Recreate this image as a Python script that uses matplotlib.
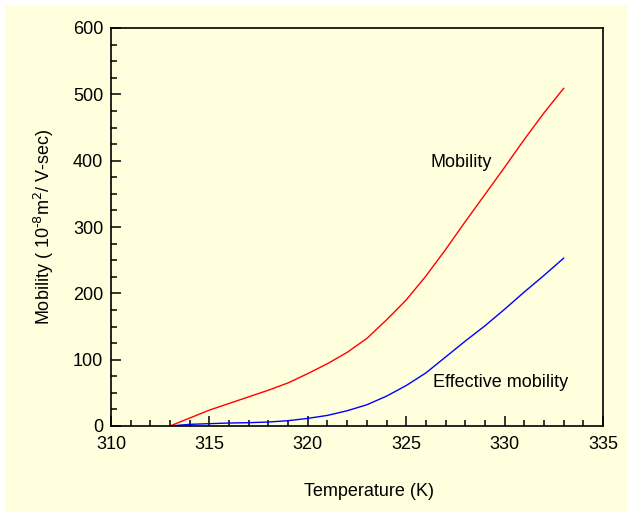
import matplotlib
matplotlib.use("Agg")
import matplotlib.pyplot as plt
from matplotlib.ticker import MultipleLocator
from matplotlib.patches import Rectangle

plt.rcParams['font.family'] = ['Liberation Sans', 'DejaVu Sans']

temperature = [313, 314, 315, 316, 317, 318, 319, 320, 321, 322, 323,
               324, 325, 326, 327, 328, 329, 330, 331, 332, 333]
mobility = [0, 12, 24, 34, 44, 54, 65, 79, 94, 111, 132,
            160, 190, 226, 266, 308, 349, 390, 432, 472, 509]
effective_mobility = [0, 2.5, 3.5, 4.5, 5, 6, 8, 11.5, 16, 23, 32,
                      45, 61, 80, 104, 128, 151, 176, 202, 227, 253]

bg = '#FFFFDD'
fig = plt.figure(figsize=(6.32, 5.17), dpi=100, facecolor='white')
fig.patches.append(Rectangle((5/632, 5/517), 622/632, 507/517, transform=fig.transFigure,
                             facecolor=bg, edgecolor='none', zorder=-10))
ax = fig.add_axes([111/632, 1-426/517, (603-111)/632, (426-28)/517])
ax.set_facecolor(bg)

ax.plot(temperature, mobility, color='#FF0000', lw=1.0)
ax.plot(temperature, effective_mobility, color='#0000FF', lw=1.0)

ax.set_xlim(310, 335)
ax.set_ylim(0, 600)
ax.xaxis.set_major_locator(MultipleLocator(5))
ax.xaxis.set_minor_locator(MultipleLocator(1))
ax.yaxis.set_major_locator(MultipleLocator(100))
ax.yaxis.set_minor_locator(MultipleLocator(25))
ax.tick_params(which='both', direction='in', top=False, right=False, labelsize=13, width=1.1)
ax.tick_params(which='major', length=7)
ax.tick_params(which='minor', length=4)
ax.tick_params(axis='x', pad=7.5)
ax.tick_params(axis='y', pad=5.5)
for s in ax.spines.values():
    s.set_linewidth(1.2)

ax.text(327.8, 397, 'Mobility', fontsize=13, ha='center', va='center')
ax.text(329.8, 65, 'Effective mobility', fontsize=13, ha='center', va='center')

ax.set_xlabel('Temperature (K)', fontsize=13, labelpad=21, x=0.524)
ax.set_ylabel(r'Mobility ( 10$^{\text{-}8}$m$^2$/ V-sec)', fontsize=13, labelpad=12)

fig.savefig('out.png', dpi=100, facecolor='white')
